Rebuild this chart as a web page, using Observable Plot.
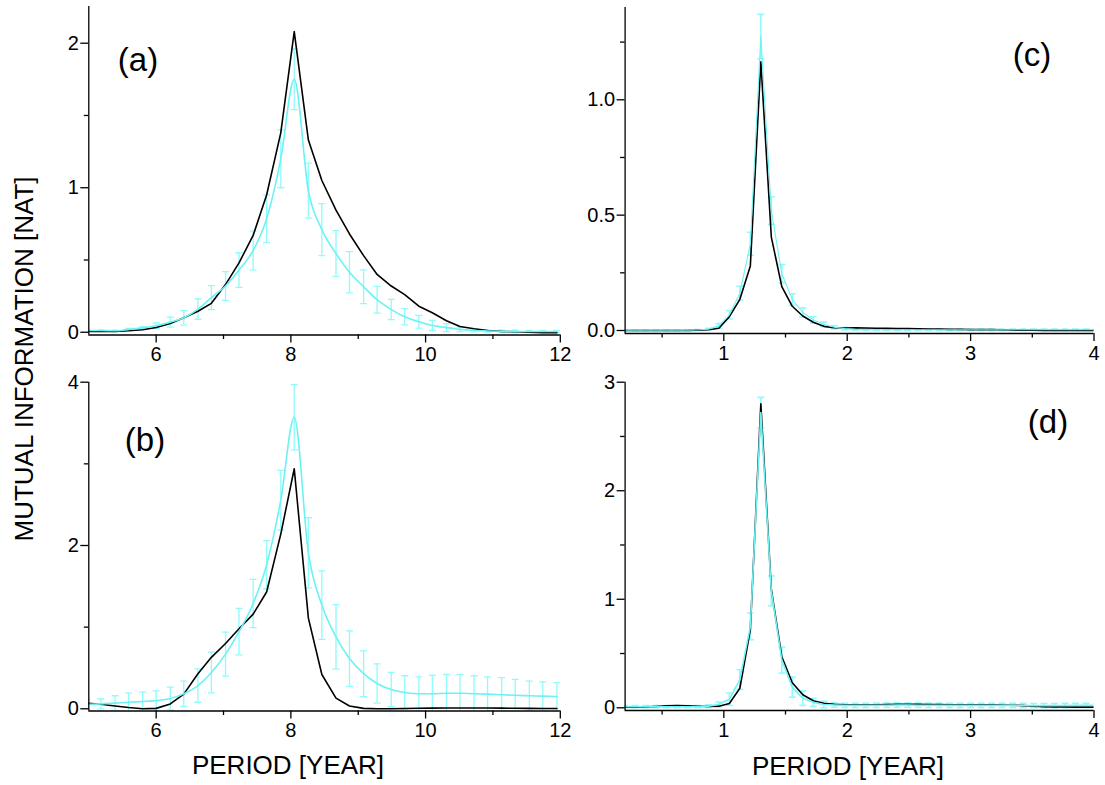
<!DOCTYPE html>
<html><head><meta charset="utf-8">
<script src="https://cdn.jsdelivr.net/npm/d3@7"></script>
<script src="https://cdn.jsdelivr.net/npm/@observablehq/plot@0.6"></script>
<style>
body{margin:0;background:#fff;}
#fig{position:relative;width:1105px;height:785px;font-family:"Liberation Sans",Arial,sans-serif;overflow:hidden;}
.p{position:absolute;}
#over{position:absolute;left:0;top:0;pointer-events:none;}
</style></head><body><div id="fig"></div><script>
// ---- data ----
const periodsAB = [4.97,5.18,5.39,5.59,5.80,6.00,6.21,6.41,6.62,6.82,7.03,7.23,7.44,7.64,7.85,8.05,8.26,8.46,8.67,8.87,9.08,9.28,9.49,9.69,9.90,10.10,10.31,10.51,10.72,10.92,11.13,11.33,11.54,11.74,11.95];
const blackA = [0.005,0.005,0.006,0.010,0.017,0.033,0.060,0.100,0.145,0.200,0.330,0.480,0.670,0.950,1.380,2.080,1.330,1.050,0.845,0.680,0.530,0.400,0.320,0.260,0.180,0.135,0.080,0.040,0.024,0.012,0.006,0.003,0.000,-0.003,-0.003];
const meanA = [0.012,0.012,0.010,0.020,0.030,0.045,0.070,0.100,0.160,0.240,0.320,0.430,0.565,0.785,1.200,1.750,0.980,0.710,0.545,0.415,0.315,0.225,0.157,0.107,0.072,0.047,0.032,0.020,0.012,0.009,0.007,0.006,0.005,0.005,0.005];
const errA = [0.005,0.005,0.005,0.006,0.008,0.020,0.035,0.050,0.070,0.083,0.100,0.120,0.135,0.165,0.200,0.210,0.190,0.180,0.158,0.143,0.117,0.093,0.070,0.056,0.044,0.035,0.028,0.016,0.010,0.008,0.008,0.008,0.008,0.008,0.008];
const blackB = [0.070,0.055,0.035,0.015,0.000,0.005,0.060,0.180,0.430,0.630,0.800,0.980,1.160,1.430,2.140,2.940,1.110,0.420,0.130,0.035,0.005,0.000,0.000,0.003,0.006,0.008,0.010,0.010,0.010,0.010,0.008,0.006,0.005,0.004,0.003];
const meanB = [0.055,0.060,0.070,0.080,0.090,0.100,0.125,0.185,0.285,0.445,0.670,0.945,1.290,1.765,2.555,3.570,1.910,1.270,0.880,0.615,0.430,0.310,0.235,0.200,0.185,0.185,0.190,0.190,0.185,0.180,0.172,0.165,0.160,0.155,0.150];
const errB = [0.060,0.060,0.090,0.113,0.115,0.120,0.140,0.155,0.205,0.250,0.270,0.285,0.295,0.295,0.365,0.400,0.430,0.420,0.395,0.340,0.280,0.240,0.210,0.205,0.205,0.225,0.230,0.230,0.220,0.210,0.210,0.195,0.180,0.175,0.170];

const periodsCD = [0.195,0.28,0.365,0.45,0.535,0.62,0.705,0.79,0.875,0.96,1.045,1.13,1.215,1.30,1.385,1.47,1.555,1.64,1.725,1.81,1.895,1.98,2.065,2.15,2.235,2.32,2.405,2.49,2.575,2.66,2.745,2.83,2.915,3.00,3.085,3.17,3.255,3.34,3.425,3.51,3.595,3.68,3.765,3.85,3.935,4.02];
const blackC = [0,0,0,0,0,0,0,0.001,0.003, 0.010,0.060,0.135,0.280,1.165,0.405,0.190,0.105,0.063,0.036,0.018,0.012, 0.011,0.012,0.011,0.010,0.009,0.008,0.008,0.007,0.006,0.006,0.005,0.005, 0.004,0.004,0.004,0.003,0.002,0.001,0.001,0,0,0,0,0, 0];
const meanC = [0.001,0.001,0.001,0.001,0.001,0.001,0.001,0.002,0.006, 0.020,0.068,0.162,0.376,1.274,0.520,0.246,0.134,0.078,0.046,0.027,0.014, 0.008,0.005,0.004,0.003,0.003,0.003,0.003,0.003,0.003,0.003,0.003,0.003, 0.003,0.003,0.003,0.003,0.003,0.003,0.003,0.003,0.003,0.003,0.003,0.003, 0.003];
const errC = [0.002,0.002,0.002,0.002,0.002,0.002,0.002,0.002,0.003, 0.010,0.018,0.030,0.050,0.096,0.060,0.040,0.025,0.020,0.014,0.010,0.007, 0.005,0.004,0.003,0.003,0.003,0.003,0.003,0.003,0.003,0.003,0.003,0.003, 0.003,0.003,0.003,0.003,0.003,0.003,0.003,0.003,0.003,0.003,0.003,0.003, 0.003];
const blackD = [0.005,0.006,0.008,0.012,0.018,0.020,0.018,0.014,0.012, 0.015,0.040,0.180,0.720,2.800,1.090,0.470,0.230,0.120,0.065,0.042,0.032, 0.028,0.027,0.027,0.028,0.030,0.032,0.033,0.032,0.030,0.029,0.028,0.028, 0.028,0.028,0.027,0.026,0.024,0.020,0.015,0.010,0.008,0.007,0.006,0.006, 0.006];
const meanD = [0.010,0.010,0.010,0.010,0.010,0.010,0.010,0.010,0.015, 0.030,0.080,0.260,0.750,2.720,1.077,0.440,0.190,0.088,0.050,0.030,0.025, 0.022,0.022,0.022,0.023,0.024,0.025,0.025,0.024,0.023,0.023,0.022,0.022, 0.022,0.022,0.022,0.022,0.022,0.021,0.020,0.020,0.020,0.021,0.022,0.022, 0.022];
const errD = [0.010,0.010,0.010,0.010,0.010,0.010,0.010,0.010,0.012, 0.023,0.056,0.090,0.123,0.140,0.138,0.120,0.092,0.066,0.037,0.030,0.020, 0.020,0.020,0.020,0.020,0.020,0.020,0.020,0.020,0.020,0.020,0.020,0.020, 0.020,0.020,0.020,0.020,0.020,0.020,0.020,0.020,0.020,0.020,0.020,0.020, 0.020];

const xTicksAB = [6, 8, 10, 12], xMinorAB = [7, 9, 11];
const xTicksCD = [1, 2, 3, 4], xMinorCD = [0.5, 1.5, 2.5, 3.5];
const tags = ["(a)", "(b)", "(c)", "(d)"];
const xTitle = "PERIOD [YEAR]";
const yTitle = "MUTUAL INFORMATION [NAT]";

// ---- styling ----
const lineColor = "#6cf2f5";
const barColor = "#8ffbfb";
const font = "'Liberation Sans', Arial, sans-serif";
const capSymbol = {draw(ctx, size){const r = Math.sqrt(size / Math.PI); ctx.moveTo(-r, 0); ctx.lineTo(r, 0);}};

function panel(c) {
  const rows = c.x.map((x, i) => ({x, black: c.black[i], mean: c.mean[i], lo: c.mean[i] - c.err[i], hi: c.mean[i] + c.err[i]}));
  return Plot.plot({
    width: c.w, height: c.h,
    marginLeft: c.ml, marginRight: c.mr, marginTop: c.mt, marginBottom: c.mb,
    style: {fontFamily: font, fontSize: "20px", background: "transparent", overflow: "visible", color: "#000"},
    x: {domain: c.xd, axis: null, label: null},
    y: {domain: c.yd, axis: null, label: null},
    marks: [
      Plot.ruleX(rows, {x: "x", y1: "lo", y2: "hi", stroke: barColor, strokeWidth: c.bw, clip: true}),
      Plot.dot(rows, {x: "x", y: "hi", symbol: capSymbol, r: 3.5, stroke: barColor, strokeWidth: c.bw, fill: "none", clip: true}),
      Plot.dot(rows, {x: "x", y: "lo", symbol: capSymbol, r: 3.5, stroke: barColor, strokeWidth: c.bw, fill: "none", clip: true}),
      Plot.line(rows, {x: "x", y: "black", stroke: "#000", strokeWidth: 1.6, clip: true}),
      Plot.line(rows, {x: "x", y: "mean", stroke: lineColor, strokeWidth: c.cw, curve: c.curve, clip: true}),
      Plot.ruleY([c.yd[0]], {stroke: "#000", strokeWidth: 1.3}),
      Plot.ruleX([c.xd[0]], {stroke: "#000", strokeWidth: 1.3}),
      Plot.axisX({ticks: c.xt, tickSize: 8, tickPadding: 4, label: null, tickFormat: d => String(d), strokeWidth: 1.3}),
      Plot.axisX({ticks: c.xm, tickSize: 4.5, label: null, tickFormat: () => "", strokeWidth: 1.3}),
      Plot.axisY({ticks: c.yt, tickSize: 8, tickPadding: 2, label: null, tickFormat: c.yf, strokeWidth: 1.3}),
      Plot.axisY({ticks: c.ym, tickSize: 4.5, label: null, tickFormat: () => "", strokeWidth: 1.3})
    ]
  });
}

const fig = document.getElementById("fig");
function place(node, left, top) {
  const d = document.createElement("div");
  d.className = "p"; d.style.left = left + "px"; d.style.top = top + "px";
  d.appendChild(node); fig.appendChild(d);
}

const fmtInt = d => String(d);
place(panel({x: periodsAB, black: blackA, mean: meanA, err: errA, w: 580, h: 370, ml: 88.3, mr: 20.2, mt: 6, mb: 35.5,
  xd: [5, 12], yd: [-0.019, 2.254], xt: xTicksAB, xm: xMinorAB, yt: [0, 1, 2], ym: [0.5, 1.5], yf: fmtInt,
  cw: 1.6, bw: 1.3, curve: "monotone-x"}), 0, 0);
place(panel({x: periodsAB, black: blackB, mean: meanB, err: errB, w: 580, h: 375, ml: 88.3, mr: 20.2, mt: 11.7, mb: 34.5,
  xd: [5, 12], yd: [-0.027, 4], xt: xTicksAB, xm: xMinorAB, yt: [0, 2, 4], ym: [1, 3], yf: fmtInt,
  cw: 1.6, bw: 1.3, curve: "monotone-x"}), 0, 370);
place(panel({x: periodsCD, black: blackC, mean: meanC, err: errC, w: 525, h: 370, ml: 44.6, mr: 11.5, mt: 7, mb: 37,
  xd: [0.2, 4], yd: [-0.013, 1.4], xt: xTicksCD, xm: xMinorCD, yt: [0, 0.5, 1], ym: [0.25, 0.75, 1.25], yf: d3.format(".1f"),
  cw: 1.1, bw: 1.6, curve: "linear"}), 580, 0);
place(panel({x: periodsCD, black: blackD, mean: meanD, err: errD, w: 525, h: 375, ml: 44.6, mr: 11.5, mt: 11.7, mb: 35,
  xd: [0.2, 4], yd: [-0.025, 3], xt: xTicksCD, xm: xMinorCD, yt: [0, 1, 2, 3], ym: [0.5, 1.5, 2.5], yf: fmtInt,
  cw: 1.6, bw: 1.6, curve: "linear"}), 580, 370);

// ---- text overlay ----
const ns = "http://www.w3.org/2000/svg";
const over = document.createElementNS(ns, "svg");
over.setAttribute("id", "over"); over.setAttribute("width", 1105); over.setAttribute("height", 785);
over.style.fontFamily = font;
function txt(s, x, y, size, rot) {
  const t = document.createElementNS(ns, "text");
  t.textContent = s; t.setAttribute("x", x); t.setAttribute("y", y);
  t.setAttribute("font-size", size); t.setAttribute("text-anchor", "middle"); t.setAttribute("fill", "#000");
  if (rot) t.setAttribute("transform", `rotate(-90 ${x} ${y})`);
  over.appendChild(t);
}
txt(tags[0], 138, 71, 33);
txt(tags[1], 145, 451, 33);
txt(tags[2], 1032, 66, 33);
txt(tags[3], 1048, 433, 33);
txt(xTitle, 288, 774, 26);
txt(xTitle, 848, 775, 26);
txt(yTitle, 33, 359, 26, true);
fig.appendChild(over);
</script></body></html>
